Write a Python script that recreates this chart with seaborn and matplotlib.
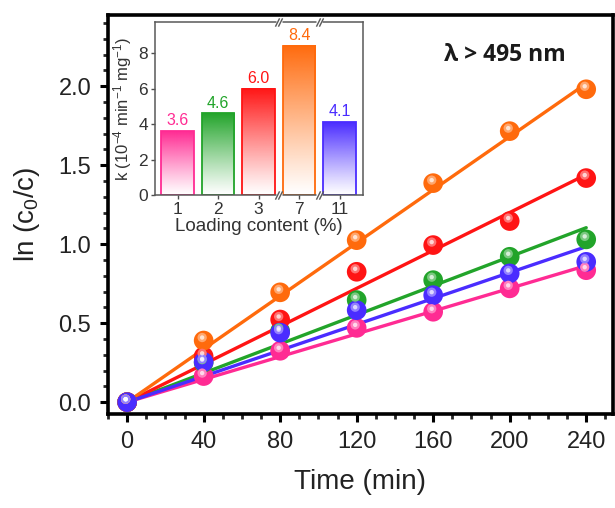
import numpy as np
import pandas as pd
import seaborn as sns
import matplotlib.pyplot as plt
import matplotlib.transforms as mtransforms
from matplotlib.colors import to_rgb
from matplotlib.ticker import MultipleLocator

# Irradiation time (min) and ln(c0/c) for each loading content
time_min = [0, 40, 80, 120, 160, 200, 240]
ln_pink = [0, 0.165, 0.325, 0.47, 0.572, 0.72, 0.835]
ln_green = [0, 0.25, 0.45, 0.646, 0.772, 0.92, 1.03]
ln_red = [0, 0.29, 0.523, 0.825, 0.994, 1.146, 1.418]
ln_orange = [0, 0.39, 0.695, 1.025, 1.386, 1.715, 1.98]
ln_blue = [0, 0.255, 0.44, 0.582, 0.677, 0.815, 0.888]

# Rate constants k (10^-4 min^-1 mg^-1) per loading content (%)
loading = ["1", "2", "3", "7", "11"]
k_values = [3.6, 4.6, 6.0, 8.4, 4.1]
CATALYST_MG = 10  # catalyst mass used in the kinetic runs

colors = {"1": "#ff2b93", "2": "#22a42a", "3": "#ff1414",
          "7": "#ff6a0c", "11": "#4a2cff"}
series = {"1": ln_pink, "2": ln_green, "3": ln_red, "7": ln_orange, "11": ln_blue}
draw_order = ["1", "2", "3", "7", "11"]

sns.set_theme(style="ticks")
plt.rcParams["font.family"] = ["Liberation Sans", "DejaVu Sans"]
plt.rcParams["mathtext.fontset"] = "custom"
plt.rcParams["mathtext.rm"] = "Liberation Sans"
plt.rcParams["mathtext.it"] = "Liberation Sans:italic"

fig = plt.figure(figsize=(6.15, 5.08), dpi=100)
W, H = 615, 508
ax = fig.add_axes([108 / W, (H - 414) / H, (613 - 108) / W, (414 - 15) / H])

# Pseudo-first-order fits: ln(c0/c) = k * m * t
for key in draw_order:
    slope = k_values[loading.index(key)] * 1e-4 * CATALYST_MG
    fit = pd.DataFrame({"t": time_min, "y": [slope * t for t in time_min]})
    sns.lineplot(data=fit, x="t", y="y", color=colors[key], lw=2.4, ax=ax,
                 zorder=2)

# Shaded "sphere" markers
hl = mtransforms.offset_copy(ax.transData, fig=fig, x=-1.5, y=3.0, units="dots")
for key in draw_order:
    df = pd.DataFrame({"t": time_min, "y": series[key]})
    sns.scatterplot(data=df, x="t", y="y", color=colors[key], s=200,
                    edgecolor="none", ax=ax, zorder=3)
    light = tuple(0.6 * np.array(to_rgb(colors[key])) + 0.4)
    ax.scatter(df["t"], df["y"], s=45, color=light, edgecolor="none",
               transform=hl, zorder=3.5)
    ax.scatter(df["t"], df["y"], s=10, color="white", alpha=0.7,
               edgecolor="none", transform=hl, zorder=3.6)

ax.set_xlim(-10, 254)
ax.set_ylim(-0.075, 2.45)
ax.xaxis.set_major_locator(MultipleLocator(40))
ax.xaxis.set_minor_locator(MultipleLocator(10))
ax.yaxis.set_major_locator(MultipleLocator(0.5))
ax.yaxis.set_minor_locator(MultipleLocator(0.1))
ax.tick_params(which="major", length=6, width=2.2, labelsize=17, pad=6,
               direction="out", color="black", labelcolor="#222222")
ax.tick_params(which="minor", length=3.5, width=2.0, direction="out")
for s in ax.spines.values():
    s.set_linewidth(2.6)
    s.set_color("black")
ax.set_xlabel("Time (min)", fontsize=20, labelpad=12, color="#222222")
ax.set_ylabel(r"ln (c$_\mathregular{0}$/c)", fontsize=20, labelpad=12,
              color="#222222")
ax.text(0.785, 0.9, "λ > 495 nm", transform=ax.transAxes, fontsize=16.5,
        fontweight="bold", family=["Open Sans", "DejaVu Sans"], ha="center",
        va="center", color="#1a1a1a")

# Inset: rate constants vs loading content
ax_in = fig.add_axes([155 / W, (H - 195) / H, (363 - 155) / W, (195 - 22) / H])
kdf = pd.DataFrame({"loading": loading, "k": k_values})
sns.barplot(data=kdf, x="loading", y="k", hue="loading", order=loading,
            hue_order=loading, palette=colors, legend=False, width=0.8,
            ax=ax_in, zorder=2)

for cont, key in zip(ax_in.containers, loading):
    rgb = np.array(to_rgb(colors[key]))
    for bar in cont:
        x0, y0 = bar.get_x(), bar.get_y()
        w, h = bar.get_width(), bar.get_height()
        frac = np.linspace(0, 1, 256)[:, None]
        img = np.ones((256, 1, 4))
        img[..., :3] = rgb
        img[..., 3] = frac ** 1.1
        ax_in.imshow(img, extent=(x0, x0 + w, y0, y0 + h), origin="lower",
                     aspect="auto", zorder=1.5, interpolation="bilinear")
        bar.set_facecolor("none")
        bar.set_edgecolor(colors[key])
        bar.set_linewidth(1.3)
    ax_in.bar_label(cont, fmt="%.1f", color=colors[key], fontsize=11.5,
                    padding=2)
ax_in.set_xlim(-0.56, 4.58)
ax_in.set_ylim(0, 9.75)

ax_in.set_yticks([0, 2, 4, 6, 8])
ax_in.tick_params(axis="both", labelsize=12.5, length=3, width=1, pad=2,
                  color="0.3", labelcolor="0.2")
for s in ax_in.spines.values():
    s.set_linewidth(1.1)
    s.set_color("0.35")
ax_in.set_xlabel("Loading content (%)", fontsize=13.5, labelpad=1,
                 color="0.2")
ax_in.set_ylabel(r"k (10$^{-4}$ min$^{-1}$ mg$^{-1}$)", fontsize=12,
                 labelpad=3, color="0.2")

# Axis-break marks between 3 and 7, and between 7 and 11
brk = mtransforms.blended_transform_factory(ax_in.transData, ax_in.transAxes)
for xb in (2.5, 3.5):
    for yb in (0, 1):
        ax_in.plot([xb], [yb], marker="s", ms=5, color="white", mec="none",
                   transform=brk, clip_on=False, zorder=5)
        for dx in (-1.6, 1.6):
            tr = mtransforms.offset_copy(brk, fig=fig, x=dx, y=0, units="dots")
            ax_in.plot([xb], [yb], marker=[(-0.5, -1), (0.5, 1)], ms=6,
                       mew=1.0, color="0.35", transform=tr, clip_on=False,
                       zorder=6)

fig.savefig("out.png", dpi=100)
